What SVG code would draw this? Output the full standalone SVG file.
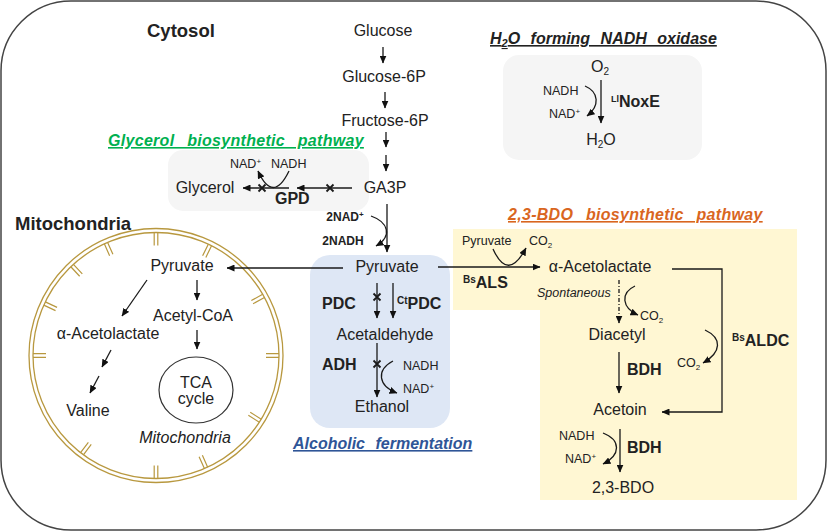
<svg xmlns="http://www.w3.org/2000/svg" xmlns:xlink="http://www.w3.org/1999/xlink" width="827" height="532" viewBox="0 0 827 532">
<style>
text{font-family:"Liberation Sans",Arial,sans-serif;fill:#222;}
.m{font-size:16px;text-anchor:middle;}
.s{font-size:12.5px;}
.b{font-size:16px;font-weight:bold;}
.lbl{font-size:18.5px;font-weight:bold;}
.t{font-size:16px;font-weight:bold;font-style:italic;text-decoration:underline;}
.ln{fill:none;stroke:#1a1a1a;stroke-width:1.3;}
.ar{marker-end:url(#a);}
.x{fill:none;stroke:#1a1a1a;stroke-width:1.8;}
.tick{fill:none;stroke:#b8983f;stroke-width:1.2;}
</style>
<defs>
<marker id="a" viewBox="0 0 8 7" refX="7.5" refY="3.5" markerWidth="8" markerHeight="7" markerUnits="userSpaceOnUse" orient="auto"><path d="M0,0L8,3.5L0,7z" fill="#111"/></marker>
<path id="xm" class="x" d="M-3.5,-3.5L3.5,3.5M3.5,-3.5L-3.5,3.5"/>
<path id="tick" class="tick" d="M123,-1.8h-13M123,1.8h-13"/>
</defs>

<rect id="border" x="1" y="1" width="825" height="529" rx="70" ry="70" fill="#fff" stroke="#444" stroke-width="1.5"/>

<g id="regions">
<rect id="glycerol-box" x="168" y="150" width="201" height="61" rx="15" fill="#f5f5f5"/>
<rect id="noxe-box" x="503" y="55" width="199" height="105" rx="16" fill="#f5f5f5"/>
<polygon id="bdo-box" points="453,229 797,229 797,500 540,500 540,310 453,310" fill="#fff7d3"/>
<rect id="ferment-box" x="310" y="255" width="140" height="173" rx="20" fill="#dee7f5"/>
</g>

<g id="mitochondrion">
<circle cx="156" cy="355.5" r="127" fill="none" stroke="#b8983f" stroke-width="1.3"/>
<circle cx="156" cy="355.5" r="123" fill="none" stroke="#b8983f" stroke-width="1.3"/>
<g transform="translate(156,355.5)">
<use xlink:href="#tick" href="#tick" transform="rotate(-90)"/>
<use xlink:href="#tick" href="#tick" transform="rotate(-64)"/>
<use xlink:href="#tick" href="#tick" transform="rotate(-29)"/>
<use xlink:href="#tick" href="#tick" transform="rotate(0)"/>
<use xlink:href="#tick" href="#tick" transform="rotate(32)"/>
<use xlink:href="#tick" href="#tick" transform="rotate(66)"/>
<use xlink:href="#tick" href="#tick" transform="rotate(90)"/>
<use xlink:href="#tick" href="#tick" transform="rotate(127)"/>
<use xlink:href="#tick" href="#tick" transform="rotate(180)"/>
<use xlink:href="#tick" href="#tick" transform="rotate(-155)"/>
<use xlink:href="#tick" href="#tick" transform="rotate(-133)"/>
<use xlink:href="#tick" href="#tick" transform="rotate(-114)"/>
</g>
<ellipse id="tca" cx="196" cy="390" rx="37" ry="33" fill="none" stroke="#333" stroke-width="1.2"/>
</g>

<g id="titles">
<text class="lbl" x="147" y="37">Cytosol</text>
<text class="lbl" x="15" y="230">Mitochondria</text>
<text class="t" x="108" y="146" style="fill:#00b050;word-spacing:8px;letter-spacing:0.3px">Glycerol biosynthetic pathway</text>
<text class="t" x="490" y="44" style="word-spacing:6px">H<tspan font-size="11" dy="3">2</tspan><tspan dy="-3">O forming NADH oxidase</tspan></text>
<text class="t" x="508" y="220" style="fill:#d9661f;word-spacing:8px;letter-spacing:0.3px">2,3-BDO biosynthetic pathway</text>
<text class="t" x="293" y="449" style="fill:#2f5597;word-spacing:6px">Alcoholic fermentation</text>
</g>

<g id="connectors">
<line class="ln ar" x1="383" y1="47" x2="383" y2="63"/>
<line class="ln ar" x1="385" y1="92" x2="385" y2="108"/>
<line class="ln ar" x1="386" y1="132" x2="386" y2="147"/>
<line class="ln ar" x1="386" y1="155" x2="386" y2="171"/>
<line class="ln ar" x1="387" y1="204" x2="387" y2="252"/>
<path class="ln ar" d="M371,216 C388,222 393,236 376,246"/>
<line class="ln ar" x1="352" y1="188" x2="297" y2="188"/>
<line class="ln ar" x1="289" y1="188" x2="243" y2="188"/>
<path class="ln ar" d="M289,171 Q273,204 258,171"/>
<use href="#xm" xlink:href="#xm" x="330" y="188"/>
<use href="#xm" xlink:href="#xm" x="262" y="188"/>
<line class="ln ar" x1="601" y1="80" x2="601" y2="123"/>
<path class="ln ar" d="M585,86 C599,92 600,106 587,116"/>
<line class="ln ar" x1="343" y1="268" x2="227" y2="268"/>
<line class="ln ar" x1="438" y1="267" x2="540" y2="267"/>
<path class="ln ar" d="M493,249 Q508,282 526,248"/>
<line class="ln ar" x1="377" y1="283" x2="377" y2="318"/>
<line class="ln ar" x1="393" y1="283" x2="393" y2="318"/>
<use href="#xm" xlink:href="#xm" x="377" y="297"/>
<line class="ln ar" x1="377" y1="343" x2="377" y2="397"/>
<use href="#xm" xlink:href="#xm" x="377" y="364"/>
<path class="ln ar" d="M393,361 C376,370 378,386 397,393"/>
<line class="ln ar" x1="619" y1="280" x2="619" y2="323" stroke-dasharray="4,2,1,2"/>
<path class="ln ar" d="M635,286 C620,293 622,308 638,315"/>
<line class="ln ar" x1="619" y1="352" x2="619" y2="393"/>
<line class="ln ar" x1="620" y1="429" x2="620" y2="472"/>
<path class="ln ar" d="M603,433 C621,440 621,455 603,464"/>
<polyline class="ln ar" points="672,269 722,269 722,412 662,412"/>
<path class="ln ar" d="M705,330 C722,338 722,352 703,363"/>
<line class="ln ar" x1="147" y1="280" x2="122" y2="316"/>
<line class="ln ar" x1="197" y1="280" x2="197" y2="300"/>
<line class="ln ar" x1="197" y1="330" x2="197" y2="349"/>
<line class="ln ar" x1="111" y1="350" x2="102" y2="367"/>
<line class="ln ar" x1="99" y1="376" x2="90" y2="393"/>
</g>

<g id="glucose"><text class="m" x="383" y="36">Glucose</text></g>
<g id="glucose-6p"><text class="m" x="384" y="82">Glucose-6P</text></g>
<g id="fructose-6p"><text class="m" x="385" y="126">Fructose-6P</text></g>
<g id="ga3p"><text class="m" x="385" y="193">GA3P</text></g>
<g id="nad-glycolysis">
<text x="345" y="221" style="font-size:12px;font-weight:bold;text-anchor:middle">2NAD<tspan font-size="8" dy="-4">+</tspan></text>
<text x="343" y="245" style="font-size:12px;font-weight:bold;text-anchor:middle">2NADH</text>
</g>
<g id="glycerol">
<text class="m" x="205" y="193">Glycerol</text>
<text class="s" x="230" y="168">NAD<tspan font-size="8" dy="-4">+</tspan></text>
<text class="s" x="271" y="168">NADH</text>
<text class="b" x="275" y="204">GPD</text>
</g>
<g id="noxe">
<text class="m" x="600" y="72">O<tspan font-size="10" dy="3">2</tspan></text>
<text class="s" x="543" y="95">NADH</text>
<text class="s" x="549" y="118">NAD<tspan font-size="8" dy="-4">+</tspan></text>
<text class="b" x="611" y="107"><tspan font-size="9" dy="-5">Ll</tspan><tspan dy="5">NoxE</tspan></text>
<text class="m" x="601" y="145">H<tspan font-size="10" dy="3">2</tspan><tspan dy="-3">O</tspan></text>
</g>
<g id="pyruvate"><text class="m" x="387" y="272">Pyruvate</text></g>
<g id="pdc">
<text class="b" x="322" y="309">PDC</text>
<text class="b" x="397" y="309"><tspan font-size="10" dy="-5">Ct</tspan><tspan dy="5">PDC</tspan></text>
</g>
<g id="acetaldehyde"><text class="m" x="385" y="340">Acetaldehyde</text></g>
<g id="adh">
<text class="b" x="322" y="370">ADH</text>
<text class="s" x="403" y="370">NADH</text>
<text class="s" x="403" y="393">NAD<tspan font-size="8" dy="-4">+</tspan></text>
</g>
<g id="ethanol"><text class="m" x="382" y="412">Ethanol</text></g>
<g id="als">
<text class="s" x="462" y="245">Pyruvate</text>
<text class="s" x="529" y="245">CO<tspan font-size="8" dy="3">2</tspan></text>
<text class="b" x="463" y="288"><tspan font-size="10" dy="-5">Bs</tspan><tspan dy="5">ALS</tspan></text>
</g>
<g id="acetolactate"><text class="m" x="600" y="272">α-Acetolactate</text></g>
<g id="spontaneous">
<text x="537" y="297" style="font-size:12.5px;font-style:italic">Spontaneous</text>
<text class="s" x="640" y="320">CO<tspan font-size="8" dy="3">2</tspan></text>
</g>
<g id="diacetyl"><text class="m" x="617" y="340">Diacetyl</text></g>
<g id="bdh1"><text class="b" x="627" y="375">BDH</text></g>
<g id="aldc">
<text class="b" x="732" y="346"><tspan font-size="10" dy="-5">Bs</tspan><tspan dy="5">ALDC</tspan></text>
<text class="s" x="677" y="367">CO<tspan font-size="8" dy="3">2</tspan></text>
</g>
<g id="acetoin"><text class="m" x="620" y="415">Acetoin</text></g>
<g id="bdh2">
<text class="s" x="559" y="440">NADH</text>
<text class="s" x="565" y="463">NAD<tspan font-size="8" dy="-4">+</tspan></text>
<text class="b" x="627" y="453">BDH</text>
</g>
<g id="bdo"><text class="m" x="623" y="493">2,3-BDO</text></g>
<g id="mito-nodes">
<text class="m" x="182" y="271">Pyruvate</text>
<text class="m" x="193" y="321">Acetyl-CoA</text>
<text class="m" x="108" y="339">α-Acetolactate</text>
<text class="m" x="88" y="416">Valine</text>
<text class="m" x="196" y="388">TCA</text>
<text class="m" x="196" y="404">cycle</text>
<text class="m" x="185" y="443" style="font-style:italic">Mitochondria</text>
</g>
</svg>
